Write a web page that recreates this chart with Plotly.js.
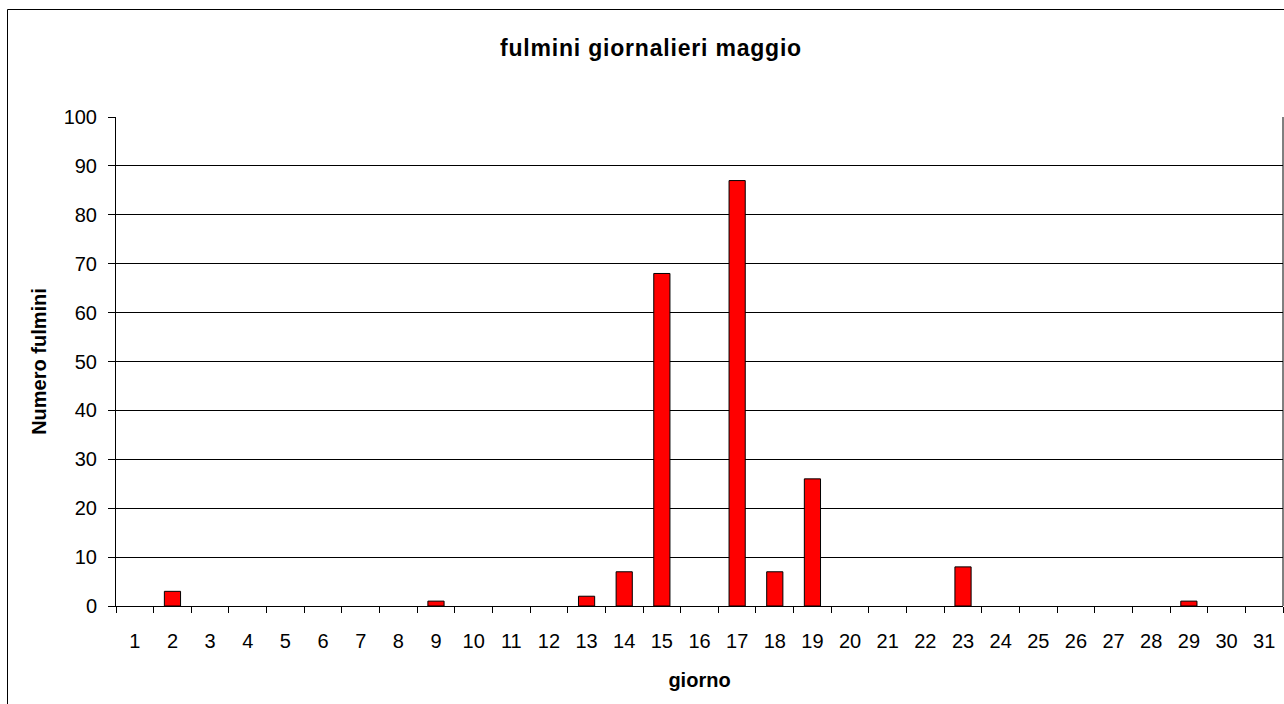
<!DOCTYPE html>
<html>
<head>
<meta charset="utf-8">
<script src="https://cdn.plot.ly/plotly-3.0.1.min.js"></script>
<style>
html,body{margin:0;padding:0;background:#fff;}
#chart{width:1284px;height:704px;}
#chart .gtitle{letter-spacing:0.8px;}
</style>
</head>
<body>
<div id="chart"></div>
<script>
const days = ["1","2","3","4","5","6","7","8","9","10","11","12","13","14","15","16","17","18","19","20","21","22","23","24","25","26","27","28","29","30","31"];
const lightning = [0,3,0,0,0,0,0,0,1,0,0,0,2,7,68,0,87,7,26,0,0,0,8,0,0,0,0,0,1,0,0];
const yTicks = [0,10,20,30,40,50,60,70,80,90,100];

const font = "Liberation Sans, Arial, sans-serif";
const trace = {
  type: "bar",
  x: days,
  y: lightning,
  width: 0.43,
  marker: {color: "#ff0000", line: {color: "#000000", width: lightning.map(v => v > 0 ? 1 : 0)}},
  hoverinfo: "x+y"
};
const layout = {
  width: 1284, height: 704,
  margin: {l: 116, r: 1, t: 117, b: 98, pad: 0},
  paper_bgcolor: "#ffffff", plot_bgcolor: "#ffffff",
  showlegend: false,
  font: {family: font, size: 20, color: "#000"},
  title: {text: "<b>fulmini giornalieri maggio</b>", font: {family: font, size: 23, color: "#000"},
          x: 651/1284, xref: "container", xanchor: "center", y: 1 - 48/704, yref: "container", yanchor: "middle"},
  xaxis: {
    type: "category", range: [-0.5, 30.5],
    tickson: "boundaries", ticks: "outside", ticklen: 6, tickcolor: "#000", tickwidth: 1,
    showline: true, linecolor: "#000", linewidth: 1, mirror: false,
    showgrid: false, zeroline: false,
    tickfont: {family: font, size: 20, color: "#000"},
    ticklabelstandoff: 17,
    title: {text: "<b>giorno</b>", font: {family: font, size: 20, color: "#000"}, standoff: 21}
  },
  yaxis: {
    range: [0, 100], tickvals: yTicks, ticktext: yTicks.map(String),
    ticks: "outside", ticklen: 7, tickcolor: "#000", tickwidth: 1,
    showline: true, linecolor: "#000", linewidth: 1,
    showgrid: true, gridcolor: "#000", gridwidth: 1, zeroline: false,
    tickfont: {family: font, size: 20, color: "#000"},
    ticklabelstandoff: 7,
    title: {text: "<b>Numero fulmini</b>", font: {family: font, size: 20, color: "#000"}, standoff: 11}
  },
  shapes: [
    {type: "rect", xref: "paper", yref: "paper", x0: (7.5-116)/1167, x1: 1.05, y0: -0.5, y1: 1 + (117-9.5)/489,
     line: {color: "#000", width: 1}, fillcolor: "rgba(0,0,0,0)", layer: "below"},
    {type: "line", xref: "paper", yref: "paper", x0: 1, x1: 1, y0: 0, y1: 1, line: {color: "#000", width: 1}}
  ],
  bargap: 0.57
};
Plotly.newPlot("chart", [trace], layout, {displayModeBar: false, staticPlot: true});
</script>
</body>
</html>
